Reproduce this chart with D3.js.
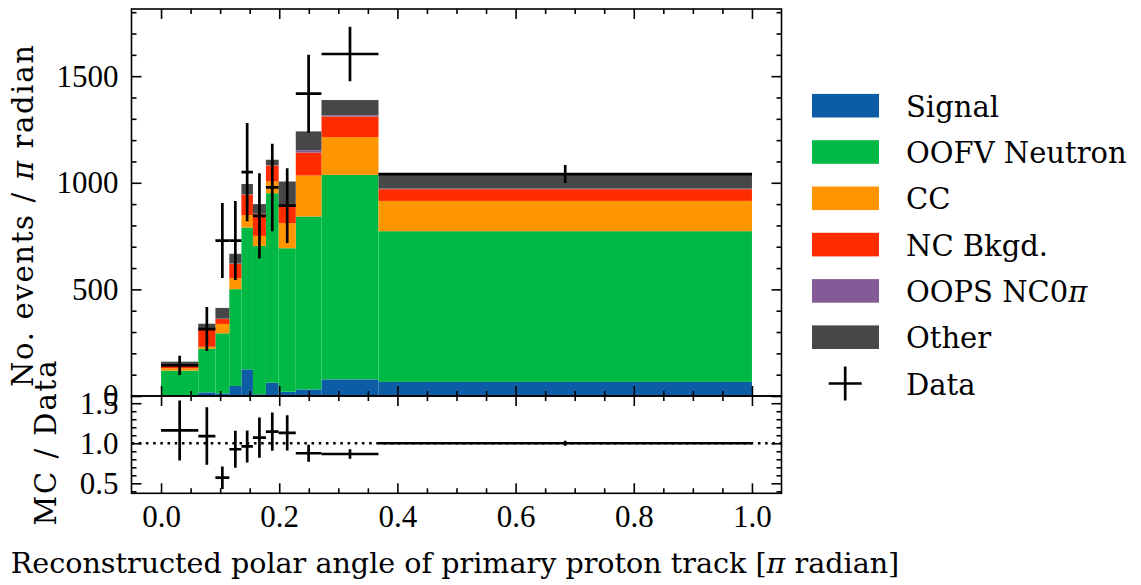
<!DOCTYPE html>
<html>
<head>
<meta charset="utf-8">
<script src="https://cdn.jsdelivr.net/npm/d3@7/dist/d3.min.js"></script>
<style>
  html, body { margin: 0; padding: 0; background: #fff; }
  svg { display: block; }
</style>
</head>
<body>
<svg id="chart" width="1141" height="585"></svg>
<script>
// ---------------- DATA ----------------
const binEdges = [0, 0.063, 0.092, 0.1155, 0.136, 0.1555, 0.1775, 0.199, 0.228, 0.2715, 0.368, 1.0];
const categories = ["Signal", "OOFV Neutron", "CC", "NC Bkgd.", "OOPS NC0π", "Other"];
const signal  = [3, 17, 12, 47, 125, 8, 62, 20, 31, 78, 66];
const oofv    = [116, 205, 282, 454, 665, 696, 889, 673, 811, 959, 707];
const cc      = [11, 9, 44, 51, 58, 47, 55, 118, 192, 177, 142];
const ncBkgd  = [11, 79, 23, 68, 96, 102, 75, 78, 108, 97, 55];
const oopsNC0pi = [2, 2, 2, 2, 2, 2, 2, 3, 10, 5, 3];
const other   = [18, 27, 50, 45, 48, 45, 25, 114, 89, 72, 72];
const dataCounts = [144, 314, 729, 729, 1050, 845, 978, 893, 1418, 1604, 1041];
const dataErr    = [45, 103, 176, 185, 230, 200, 205, 175, 183, 128, 42];
const ratio      = [1.16, 1.09, 0.57, 0.925, 0.96, 1.07, 1.145, 1.13, 0.875, 0.866, 1.0];
const ratioErr   = [0.375, 0.36, 0.14, 0.23, 0.2, 0.25, 0.24, 0.22, 0.105, 0.06, 0.03];
const colors = ["#0C5DA5", "#00B945", "#FF9500", "#FF2C00", "#845B97", "#474747"];
const xTickLabels = ["0.0", "0.2", "0.4", "0.6", "0.8", "1.0"];
const xTickValues = [0, 0.2, 0.4, 0.6, 0.8, 1.0];
const yMainTicks = [0, 500, 1000, 1500];
const yRatioTicks = [0.5, 1.0, 1.5];
const yRatioLabels = ["0.5", "1.0", "1.5"];

// ---------------- LAYOUT ----------------
const L = 131.5, R = 781.5, T = 9, MID = 396, B = 493.3;
const tickFont = "'Liberation Serif', serif";
const labFont = "'DejaVu Serif', serif";

const svg = d3.select("#chart");
const x = d3.scaleLinear().domain([-0.05, 1.05]).range([L, R]);
const y = d3.scaleLinear().domain([0, 1815]).range([MID, T]);
const yr = d3.scaleLinear().domain([0.375, 1.59]).range([B, MID]);

const seriesArrays = [signal, oofv, cc, ncBkgd, oopsNC0pi, other];
const bins = binEdges.slice(0, -1).map((e, i) => {
  const o = { x0: e, x1: binEdges[i + 1], data: dataCounts[i], err: dataErr[i], r: ratio[i], rerr: ratioErr[i] };
  categories.forEach((c, k) => o[c] = seriesArrays[k][i]);
  return o;
});

const stacked = d3.stack().keys(categories)(bins);

// clip paths
const defs = svg.append("defs");
defs.append("clipPath").attr("id", "clipMain").append("rect")
  .attr("x", L).attr("y", T).attr("width", R - L).attr("height", MID - T);
defs.append("clipPath").attr("id", "clipRatio").append("rect")
  .attr("x", L).attr("y", MID).attr("width", R - L).attr("height", B - MID);

// stacked bars
const gBars = svg.append("g").attr("clip-path", "url(#clipMain)");
stacked.forEach((s, k) => {
  gBars.selectAll(null).data(s).enter().append("rect")
    .attr("x", d => x(d.data.x0))
    .attr("width", d => x(d.data.x1) - x(d.data.x0))
    .attr("y", d => y(d[1]))
    .attr("height", d => Math.max(0, y(d[0]) - y(d[1])))
    .attr("fill", colors[k]);
});

// data error bars (main)
const gData = svg.append("g").attr("clip-path", "url(#clipMain)")
  .attr("stroke", "#000").attr("stroke-width", 2.7).attr("fill", "none");
bins.forEach(b => {
  const cx = x((b.x0 + b.x1) / 2);
  gData.append("line").attr("x1", x(b.x0)).attr("x2", x(b.x1)).attr("y1", y(b.data)).attr("y2", y(b.data));
  gData.append("line").attr("x1", cx).attr("x2", cx).attr("y1", y(b.data - b.err)).attr("y2", y(b.data + b.err));
});

// ratio panel
const gRatio = svg.append("g").attr("clip-path", "url(#clipRatio)");
gRatio.append("line").attr("x1", L).attr("x2", R).attr("y1", yr(1)).attr("y2", yr(1))
  .attr("stroke", "#000").attr("stroke-width", 2.4).attr("stroke-dasharray", "2.6,4.6");
const gR = gRatio.append("g").attr("stroke", "#000").attr("stroke-width", 2.7);
bins.forEach(b => {
  const cx = x((b.x0 + b.x1) / 2);
  gR.append("line").attr("x1", x(b.x0)).attr("x2", x(b.x1)).attr("y1", yr(b.r)).attr("y2", yr(b.r));
  gR.append("line").attr("x1", cx).attr("x2", cx).attr("y1", yr(b.r - b.rerr)).attr("y2", yr(b.r + b.rerr));
});

// ---------------- AXES ----------------
const MAJ = 10, MIN = 5;
function styleAxis(g) {
  g.select(".domain").remove();
  g.selectAll(".tick line").attr("stroke", "#000").attr("stroke-width", 1.6);
  g.selectAll(".tick text").attr("font-family", tickFont).attr("font-size", 31).attr("fill", "#000");
}
function addAxis(gen, scale, vals, size, fmt, tx, ty, pad) {
  const a = gen(scale).tickValues(vals).tickSize(-size).tickSizeOuter(0).tickPadding(pad || 0);
  if (fmt) a.tickFormat(fmt); else a.tickFormat("");
  svg.append("g").attr("transform", `translate(${tx},${ty})`).call(a).call(styleAxis);
}
const xMinor = d3.range(-0.05, 1.0501, 0.05).map(v => +v.toFixed(3)).filter(v => xTickValues.indexOf(v) < 0 && v > -0.05 && v < 1.05);
const yMinor = d3.range(0, 1801, 100).filter(v => yMainTicks.indexOf(v) < 0);
const yrMinor = d3.range(0.4, 1.59, 0.1).map(v => +v.toFixed(2)).filter(v => [0.5, 1.0, 1.5].indexOf(v) < 0);

// main panel
addAxis(d3.axisLeft, y, yMainTicks, MAJ, (d, i) => String(yMainTicks[i]), L, 0, 13);
addAxis(d3.axisLeft, y, yMinor, MIN, null, L, 0);
addAxis(d3.axisRight, y, yMainTicks, MAJ, null, R, 0);
addAxis(d3.axisRight, y, yMinor, MIN, null, R, 0);
addAxis(d3.axisTop, x, xTickValues, MAJ, null, 0, T);
addAxis(d3.axisTop, x, xMinor, MIN, null, 0, T);
addAxis(d3.axisBottom, x, xTickValues, MAJ, null, 0, MID);
addAxis(d3.axisBottom, x, xMinor, MIN, null, 0, MID);
// ratio panel
addAxis(d3.axisLeft, yr, yRatioTicks, MAJ, (d, i) => yRatioLabels[i], L, 0, 13);
addAxis(d3.axisLeft, yr, yrMinor, MIN, null, L, 0);
addAxis(d3.axisRight, yr, yRatioTicks, MAJ, null, R, 0);
addAxis(d3.axisRight, yr, yrMinor, MIN, null, R, 0);
addAxis(d3.axisTop, x, xTickValues, MAJ, null, 0, MID);
addAxis(d3.axisTop, x, xMinor, MIN, null, 0, MID);
addAxis(d3.axisBottom, x, xTickValues, MAJ, (d, i) => xTickLabels[i], 0, B, 12);
addAxis(d3.axisBottom, x, xMinor, MIN, null, 0, B);

// spines
svg.append("rect").attr("x", L).attr("y", T).attr("width", R - L).attr("height", MID - T)
  .attr("fill", "none").attr("stroke", "#000").attr("stroke-width", 1.6);
svg.append("rect").attr("x", L).attr("y", MID).attr("width", R - L).attr("height", B - MID)
  .attr("fill", "none").attr("stroke", "#000").attr("stroke-width", 1.6);

// axis labels (π set in italic like a math symbol)
function labelWithPi(sel, before, after) {
  sel.append("tspan").text(before);
  sel.append("tspan").attr("font-style", "italic").text("π");
  sel.append("tspan").text(after);
}
const yLab = svg.append("text").attr("transform", "translate(33,216) rotate(-90)")
  .attr("text-anchor", "middle").attr("font-family", labFont).attr("font-size", 29)
  .attr("textLength", 342).attr("lengthAdjust", "spacing");
labelWithPi(yLab, "No. events / ", " radian");
svg.append("text").attr("transform", "translate(56,443) rotate(-90)")
  .attr("text-anchor", "middle").attr("font-family", labFont).attr("font-size", 29)
  .attr("textLength", 165).attr("lengthAdjust", "spacing")
  .text("MC / Data");
const xLab = svg.append("text").attr("x", 455).attr("y", 573)
  .attr("text-anchor", "middle").attr("font-family", labFont).attr("font-size", 28.6);
labelWithPi(xLab, "Reconstructed polar angle of primary proton track [", " radian]");

// legend
const legY0 = 105.7, legDy = 46.3;
const leg = svg.append("g");
categories.forEach((c, k) => {
  const cy = legY0 + k * legDy;
  leg.append("rect").attr("x", 812).attr("y", cy - 11.8).attr("width", 67).attr("height", 23.6).attr("fill", colors[k]);
  const t = leg.append("text").attr("x", 906).attr("y", cy + 11).attr("font-family", labFont).attr("font-size", 29);
  if (c.endsWith("π")) {
    t.append("tspan").text(c.slice(0, -1));
    t.append("tspan").attr("font-style", "italic").text("π");
  } else {
    t.text(c);
  }
});
const dy = legY0 + 6 * legDy;
leg.append("line").attr("x1", 828.7).attr("x2", 861.7).attr("y1", dy).attr("y2", dy).attr("stroke", "#000").attr("stroke-width", 2.7);
leg.append("line").attr("x1", 845.2).attr("x2", 845.2).attr("y1", dy - 17).attr("y2", dy + 17).attr("stroke", "#000").attr("stroke-width", 2.7);
leg.append("text").attr("x", 906).attr("y", dy + 11).attr("font-family", labFont).attr("font-size", 29).text("Data");
</script>
</body>
</html>
